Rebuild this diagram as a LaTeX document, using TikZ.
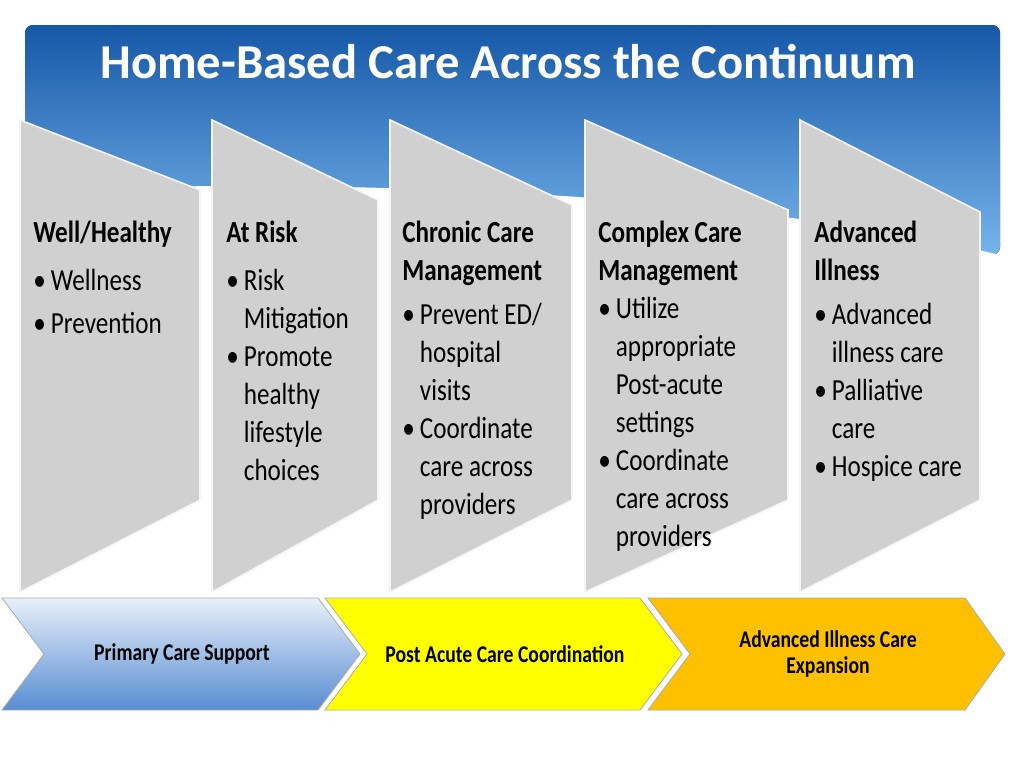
\documentclass[tikz,border=0pt]{standalone}
\usepackage{fontspec}
\setmainfont{Carlito}
\newfontfamily\narrowfont[FakeStretch=0.82]{Carlito}
\usetikzlibrary{positioning}

\definecolor{hdrdark}{RGB}{22,88,168}
\definecolor{hdrlight}{RGB}{120,180,235}
\definecolor{panelgray}{RGB}{208,208,208}
\definecolor{chevblue}{RGB}{88,140,210}
\definecolor{chevpale}{RGB}{232,240,250}
\definecolor{chevyellow}{RGB}{255,255,0}
\definecolor{chevorange}{RGB}{255,192,0}

\tikzset{
  panel/.style={fill=panelgray,draw={rgb,255:red,245;green,245;blue,245},line width=1.2pt},
  paneltext/.style={anchor=north west,align=flush left,text width=#1,inner sep=0pt,font=\narrowfont\fontsize{23}{28.5}\selectfont},
  chevron/.style={draw={rgb,255:red,170;green,170;blue,170},line width=0.6pt},
  chevtext/.style={align=center,font=\narrowfont\bfseries\fontsize{18}{20}\selectfont}
}

\begin{document}
\begin{tikzpicture}[x=0.75pt,y=0.75pt,yscale=-1,xscale=1]
\useasboundingbox[fill=white] (0,0) rectangle (1024,768);

%Header
\fill[rounded corners=6pt,top color=hdrdark,bottom color=hdrlight] (25,25) rectangle (1000,255);
\fill[white] (25,190) .. controls (300,180) and (700,185) .. (1000,255) -- (1000,265) -- (25,265) -- cycle;
\node[text=white,font=\bfseries\fontsize{36.5}{40}\selectfont] (title) at (508,62) {Home-Based Care Across the Continuum};

%Panels
\draw[panel] (20,120) -- (200,190) -- (200,500) -- (20,592) -- cycle;
\draw[panel] (212,120) -- (378,200) -- (378,500) -- (212,592) -- cycle;
\draw[panel] (390,120) -- (572,205) -- (572,500) -- (390,592) -- cycle;
\draw[panel] (585,120) -- (788,210) -- (788,500) -- (585,592) -- cycle;
\draw[panel] (800,120) -- (980,212) -- (980,500) -- (800,592) -- cycle;

% Panel texts
\node[paneltext=125pt] (well) at (33,221) {\textbf{Well/Healthy}\\[7pt]
\textbullet\,Wellness\\[4pt] \textbullet\,Prevention};
\node[paneltext=115pt] (risk) at (226,221) {\textbf{At Risk}\\[7pt]
\textbullet\,Risk\\ \hphantom{\textbullet\,}Mitigation\\ \textbullet\,Promote\\ \hphantom{\textbullet\,}healthy\\ \hphantom{\textbullet\,}lifestyle\\ \hphantom{\textbullet\,}choices};
\node[paneltext=125pt] (chronic) at (402,221) {\textbf{Chronic Care}\\ \textbf{Management}\\[4pt]
\textbullet\,Prevent ED/\\ \hphantom{\textbullet\,}hospital\\ \hphantom{\textbullet\,}visits\\ \textbullet\,Coordinate\\ \hphantom{\textbullet\,}care across\\ \hphantom{\textbullet\,}providers};
\node[paneltext=140pt] (complex) at (598,221) {\textbf{Complex Care}\\ \textbf{Management}\\
\textbullet\,Utilize\\ \hphantom{\textbullet\,}appropriate\\ \hphantom{\textbullet\,}Post-acute\\ \hphantom{\textbullet\,}settings\\ \textbullet\,Coordinate\\ \hphantom{\textbullet\,}care across\\ \hphantom{\textbullet\,}providers};
\node[paneltext=125pt] (advanced) at (814,221) {\textbf{Advanced}\\ \textbf{Illness}\\[4pt]
\textbullet\,Advanced\\ \hphantom{\textbullet\,}illness care\\ \textbullet\,Palliative\\ \hphantom{\textbullet\,}care\\ \textbullet\,Hospice care};

%Chevrons
\draw[chevron,top color=chevpale,bottom color=chevblue] (2,598) -- (318,598) -- (360,654) -- (318,710) -- (2,710) -- (44,654) -- cycle;
\draw[chevron,fill=chevyellow] (325,598) -- (640,598) -- (682,654) -- (640,710) -- (325,710) -- (367,654) -- cycle;
\draw[chevron,fill=chevorange] (648,598) -- (965,598) -- (1005,654) -- (965,710) -- (648,710) -- (690,654) -- cycle;

\node[chevtext] (primary) at (182,654) {Primary Care Support};
\node[chevtext] (postacute) at (505,654) {Post Acute Care Coordination};
\node[chevtext] (expansion) at (828,654) {Advanced Illness Care\\Expansion};

\end{tikzpicture}
\end{document}
